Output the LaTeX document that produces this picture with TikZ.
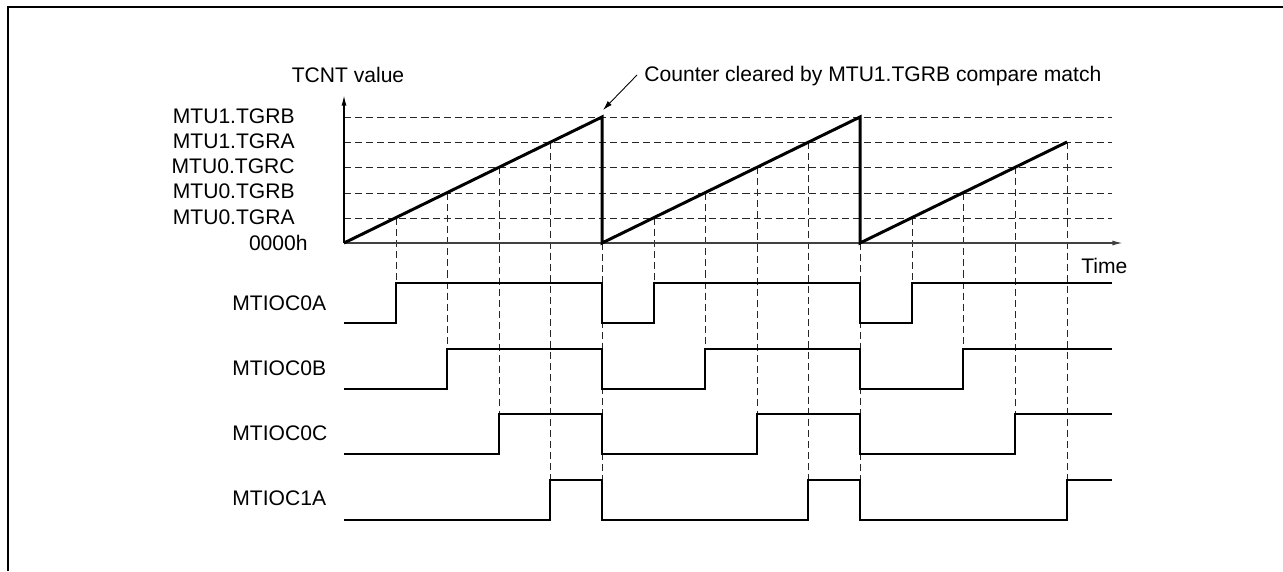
\documentclass[tikz,border=0pt]{standalone}
\usepackage{fontspec}
\setmainfont{Liberation Sans}
\usetikzlibrary{arrows.meta}

\begin{document}
\begin{tikzpicture}[
  x=0.02cm, y=-0.02cm,
  font=\fontsize{12}{14}\selectfont,
  lbl/.style={inner sep=0pt},
  guide/.style={black!85, line width=0.55pt, dash pattern=on 4pt off 2.3pt},
  ramp/.style={line width=1.7pt, line join=miter},
  sig/.style={line width=1.3pt, line join=miter},
  axis/.style={line width=0.8pt, -{Latex[length=6pt, width=2.8pt]}},
  note/.style={line width=0.5pt, -{Latex[length=5.5pt, width=3.2pt]}},
  frame/.style={line width=1.4pt, line join=miter},
]
\useasboundingbox (0,0) rectangle (1283,571);

% outer frame
\draw[frame] (8,571) -- (8,7) -- (1283,7);

% compare levels (horizontal guides)
\foreach \y in {218,193,167,142,117}
  \draw[guide] (344,\y) -- (1112,\y);

% compare match instants (vertical guides)
\foreach \x/\a/\b in {396/218/283, 447/193/349, 499/167/414, 550/142/480, 602/243/480,
                      654/218/283, 705/193/349, 757/167/414, 808/142/480, 860/243/480,
                      912/218/283, 963/193/349, 1015/167/414, 1067/142/480}
  \draw[guide] (\x,\a) -- (\x,\b);

% axes
\coordinate (o)    at (344,243);
\coordinate (ytip) at (344,95);
\coordinate (xtip) at (1123,243);
\draw[axis] (o) -- (ytip);
\draw[axis, black!75] (o) -- (xtip);

% TCNT sawtooth
\coordinate (p1) at (602,117);
\coordinate (z1) at (602,243);
\coordinate (p2) at (860,117);
\coordinate (z2) at (860,243);
\coordinate (p3) at (1067,142);
\draw[ramp] (o) -- (p1) -- (z1) -- (p2) -- (z2) -- (p3);

% labels of the counter
\node[lbl, anchor=base]      (tcnt) at (348,83)  {TCNT value};
\node[lbl, anchor=base east] (tgrb1) at (295,123) {MTU1.TGRB};
\node[lbl, anchor=base east] (tgra1) at (295,148) {MTU1.TGRA};
\node[lbl, anchor=base east] (tgrc0) at (295,173) {MTU0.TGRC};
\node[lbl, anchor=base east] (tgrb0) at (295,198) {MTU0.TGRB};
\node[lbl, anchor=base east] (tgra0) at (295,224) {MTU0.TGRA};
\node[lbl, anchor=base east] (zero)  at (308,250) {0000h};
\node[lbl, anchor=base west] (time)  at (1081,273) {Time};

% clear note
\node[lbl, anchor=base west] (clrnote) at (644,82) {Counter cleared by MTU1.TGRB compare match};
\coordinate (clrtail) at (637,75);
\coordinate (clrtip)  at (603,110);
\draw[note] (clrtail) -- (clrtip);

% output waveforms
\node[lbl, anchor=base west] (oc0a) at (232,310) {MTIOC0A};
\node[lbl, anchor=base west] (oc0b) at (232,375) {MTIOC0B};
\node[lbl, anchor=base west] (oc0c) at (232,440) {MTIOC0C};
\node[lbl, anchor=base west] (oc1a) at (232,505) {MTIOC1A};

\draw[sig] (344,323) -- (396,323) -- (396,283) -- (602,283) -- (602,323) -- (654,323)
  -- (654,283) -- (860,283) -- (860,323) -- (912,323) -- (912,283) -- (1112,283);
\draw[sig] (344,389) -- (447,389) -- (447,349) -- (602,349) -- (602,389) -- (705,389)
  -- (705,349) -- (860,349) -- (860,389) -- (963,389) -- (963,349) -- (1112,349);
\draw[sig] (344,454) -- (499,454) -- (499,414) -- (602,414) -- (602,454) -- (757,454)
  -- (757,414) -- (860,414) -- (860,454) -- (1015,454) -- (1015,414) -- (1112,414);
\draw[sig] (344,520) -- (550,520) -- (550,480) -- (602,480) -- (602,520) -- (808,520)
  -- (808,480) -- (860,480) -- (860,520) -- (1067,520) -- (1067,480) -- (1112,480);

\end{tikzpicture}
\end{document}
